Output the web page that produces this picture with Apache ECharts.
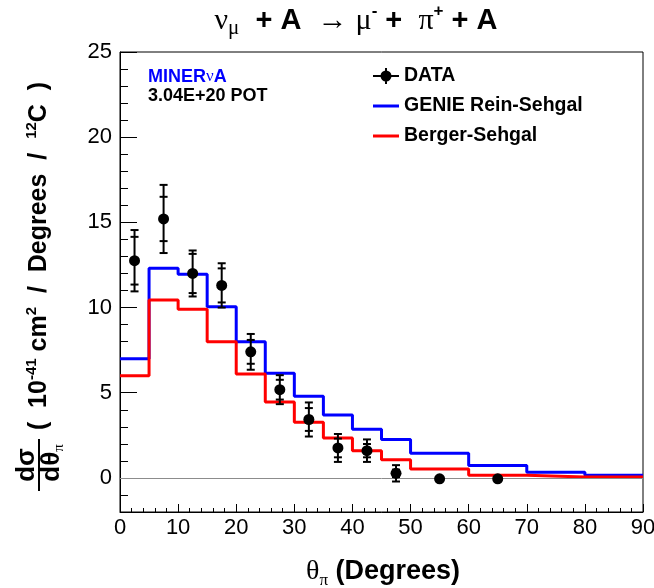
<!DOCTYPE html>
<html><head><meta charset="utf-8">
<script src="https://cdn.jsdelivr.net/npm/echarts@6/dist/echarts.min.js"></script>
<style>html,body{margin:0;padding:0;background:#fff}#c{width:654px;height:588px}</style>
</head><body><div id="c"></div><script>
// Histogram bin edges (degrees) and model predictions per bin
const binEdges = [0, 5, 10, 15, 20, 25, 30, 35, 40, 45, 50, 60, 70, 80, 90];
const genie  = [7.0, 12.3, 11.95, 10.05, 8.0, 6.15, 4.8, 3.7, 2.85, 2.25, 1.45, 0.73, 0.33, 0.15];
const berger = [6.0, 10.45, 9.9, 8.0, 6.1, 4.45, 3.27, 2.35, 1.6, 1.07, 0.53, 0.15, 0.05, 0.05];
// Data points
const dataX   = [2.5, 7.5, 12.5, 17.5, 22.5, 27.5, 32.5, 37.5, 42.5, 47.5, 55, 65];
const dataY   = [12.75, 15.2, 12.0, 11.3, 7.4, 5.18, 3.43, 1.76, 1.6, 0.27, -0.05, -0.05];
const statErr = [1.4, 1.3, 1.15, 1.0, 0.7, 0.58, 0.67, 0.55, 0.39, 0.22, 0, 0];
const totErr  = [1.8, 2.0, 1.35, 1.3, 1.05, 0.85, 1.0, 0.82, 0.66, 0.48, 0, 0];
// Tick labels
const yTickLabels = ['0', '5', '10', '15', '20', '25'];

const F = '"Liberation Sans", Arial, Helvetica, sans-serif';
const G = '"Liberation Serif", "Times New Roman", serif';

const histPoints = (vals) => binEdges.map((e, i) => [e, vals[Math.min(i, vals.length - 1)]]);

const chart = echarts.init(document.getElementById('c'), null, {renderer: 'canvas'});

const lineIcon = 'path://M0,0H26V3H0Z';
const dataIcon = 'path://M0,7H26V9H0Z M12,0H14V16H12Z M13,2.5A5.5,5.5 0 1,1 13,13.5A5.5,5.5 0 1,1 13,2.5Z';

const option = {
  backgroundColor: '#fff',
  animation: false,
  grid: {left: 120, right: 11, top: 52, bottom: 76, show: true, borderColor: '#000', borderWidth: 1,
    backgroundColor: 'transparent', outerBoundsMode: 'none', containLabel: false},
  legend: {
    orient: 'vertical', left: 368, top: 61, itemWidth: 26, itemHeight: 16, itemGap: 10,
    selectedMode: false,
    textStyle: {fontSize: 19.5, fontWeight: 'bold', fontFamily: F, color: '#000'},
    itemStyle: {borderWidth: 0, opacity: 1},
    data: [
      {name: 'DATA', icon: dataIcon},
      {name: 'GENIE Rein-Sehgal', icon: lineIcon},
      {name: 'Berger-Sehgal', icon: lineIcon}
    ]
  },
  xAxis: [
    {type: 'value', min: 0, max: 90, interval: 10, position: 'bottom',
      axisLine: {onZero: false, lineStyle: {color: '#000', width: 1}},
      axisTick: {inside: true, length: 8, lineStyle: {color: '#000', width: 1}},
      axisLabel: {fontSize: 22, fontFamily: F, color: '#000', margin: 5},
      splitLine: {show: false}},
    {type: 'value', min: 0, max: 90, interval: 2, position: 'bottom',
      axisLine: {show: false, onZero: false},
      axisTick: {show: true, inside: true, length: 4, lineStyle: {color: '#000', width: 1}},
      axisLabel: {show: false}, splitLine: {show: false}}
  ],
  yAxis: [
    {type: 'value', min: -2, max: 25, splitNumber: 5, position: 'left',
      axisLine: {show: true, onZero: false, lineStyle: {color: '#000', width: 1}},
      axisTick: {show: true, inside: true, length: 17, lineStyle: {color: '#000', width: 1}},
      axisLabel: {fontSize: 22, fontFamily: F, color: '#000', margin: 8,
        formatter: v => (yTickLabels.indexOf(String(Math.round(v))) >= 0 && Math.abs(v - Math.round(v)) < 1e-6 ? String(Math.round(v)) : '')},
      splitLine: {show: false}},
    {type: 'value', min: -2, max: 25, interval: 1, position: 'left',
      axisLine: {show: false, onZero: false},
      axisTick: {show: true, inside: true, length: 8, lineStyle: {color: '#000', width: 1}},
      axisLabel: {show: false}, splitLine: {show: false}}
  ],
  series: [
    {name: 'GENIE Rein-Sehgal', type: 'line', step: 'end', data: histPoints(genie),
      showSymbol: false, symbol: 'none', z: 3,
      itemStyle: {color: '#0000ff'}, lineStyle: {color: '#0000ff', width: 3},
      markLine: {silent: true, symbol: 'none', animation: false,
        label: {show: false}, lineStyle: {color: '#8c8c8c', width: 1, type: 'solid'},
        data: [{yAxis: 0}]}},
    {name: 'Berger-Sehgal', type: 'line', step: 'end', data: histPoints(berger),
      showSymbol: false, symbol: 'none', z: 4,
      itemStyle: {color: '#ff0000'}, lineStyle: {color: '#ff0000', width: 3}},
    {name: 'errors', type: 'custom', z: 5,
      data: dataX.map((x, i) => [x, dataY[i], statErr[i], totErr[i]]),
      encode: {x: 0, y: 1},
      renderItem: function (params, api) {
        const x = api.value(0), y = api.value(1), s = api.value(2), t = api.value(3);
        if (!t) return null;
        const top = api.coord([x, y + t]), bot = api.coord([x, y - t]);
        const st = api.coord([x, y + s]), sb = api.coord([x, y - s]);
        const hw = 4;
        const st2 = {stroke: '#000', lineWidth: 2};
        const L = (x1, y1, x2, y2) => ({type: 'line', shape: {x1, y1, x2, y2}, style: st2});
        return {type: 'group', children: [
          L(top[0], top[1], bot[0], bot[1]),
          L(top[0] - hw, top[1], top[0] + hw, top[1]),
          L(bot[0] - hw, bot[1], bot[0] + hw, bot[1]),
          L(st[0] - hw, st[1], st[0] + hw, st[1]),
          L(sb[0] - hw, sb[1], sb[0] + hw, sb[1])
        ]};
      }},
    {name: 'DATA', type: 'scatter', z: 6, symbol: 'circle', symbolSize: 11,
      itemStyle: {color: '#000', opacity: 1},
      data: dataX.map((x, i) => [x, dataY[i]])}
  ],
  graphic: [
    {type: 'text', x: 356, y: 21, style: {
      text: '{g|ν}{gs|μ}{b|  + A  }{g|→}{b| }{g|μ}{gp|-}{b| +  }{g|π}{gp|+}{b| + A}',
      align: 'center', verticalAlign: 'middle',
      rich: {
        g: {fontFamily: G, fontSize: 30, fill: '#000', lineHeight: 36},
        gs: {fontFamily: G, fontSize: 21, fill: '#000', verticalAlign: 'bottom', lineHeight: 26},
        gp: {fontFamily: F, fontSize: 17, fontWeight: 'bold', fill: '#000', verticalAlign: 'top', lineHeight: 22},
        b: {fontFamily: F, fontSize: 29, fontWeight: 'bold', fill: '#000', lineHeight: 36}
      }}},
    {type: 'text', x: 148, y: 77, style: {
      text: '{a|MINER}{n|ν}{a|A}', verticalAlign: 'middle', align: 'left',
      rich: {
        a: {fontFamily: F, fontSize: 18, fontWeight: 'bold', fill: '#0000ff'},
        n: {fontFamily: G, fontSize: 17, fill: '#0000ff'}
      }}},
    {type: 'text', x: 148, y: 96, style: {
      text: '3.04E+20 POT', verticalAlign: 'middle', align: 'left',
      fontFamily: F, fontSize: 18, fontWeight: 'bold', fill: '#000'}},
    // x axis title
    {type: 'text', x: 383, y: 572, style: {
      text: '{g|θ}{s|π}{b| (Degrees)}', align: 'center', verticalAlign: 'middle',
      rich: {
        g: {fontFamily: G, fontSize: 28, fill: '#000', lineHeight: 34},
        s: {fontFamily: G, fontSize: 17, fill: '#000', verticalAlign: 'bottom', lineHeight: 24},
        b: {fontFamily: F, fontSize: 27, fontWeight: 'bold', fill: '#000', lineHeight: 34}
      }}},
    // y axis title main part
    {type: 'text', x: 39, y: 256, rotation: Math.PI / 2, style: {
      text: '{b|(  10}{p|-41}{b| cm}{p|2}{b|  /  Degrees  /  }{p|12}{b|C  )}',
      align: 'center', verticalAlign: 'middle',
      rich: {
        b: {fontFamily: F, fontSize: 25, fontWeight: 'bold', fill: '#000', lineHeight: 30},
        p: {fontFamily: F, fontSize: 15, fontWeight: 'bold', fill: '#000', verticalAlign: 'top', lineHeight: 20}
      }}},
    // fraction d sigma / d theta_pi
    {type: 'text', x: 27, y: 465, rotation: Math.PI / 2, style: {
      text: 'dσ', align: 'center', verticalAlign: 'middle',
      fontFamily: F, fontSize: 26, fontWeight: 'bold', fill: '#000'}},
    {type: 'line', shape: {x1: 39, y1: 439, x2: 39, y2: 491}, style: {stroke: '#000', lineWidth: 2}},
    {type: 'text', x: 52, y: 463, rotation: Math.PI / 2, style: {
      text: '{b|dθ}{s|π}', align: 'center', verticalAlign: 'middle',
      rich: {
        b: {fontFamily: F, fontSize: 26, fontWeight: 'bold', fill: '#000', lineHeight: 30},
        s: {fontFamily: G, fontSize: 15, fill: '#000', verticalAlign: 'bottom', lineHeight: 22}
      }}}
  ]
};
chart.setOption(option);
</script></body></html>
